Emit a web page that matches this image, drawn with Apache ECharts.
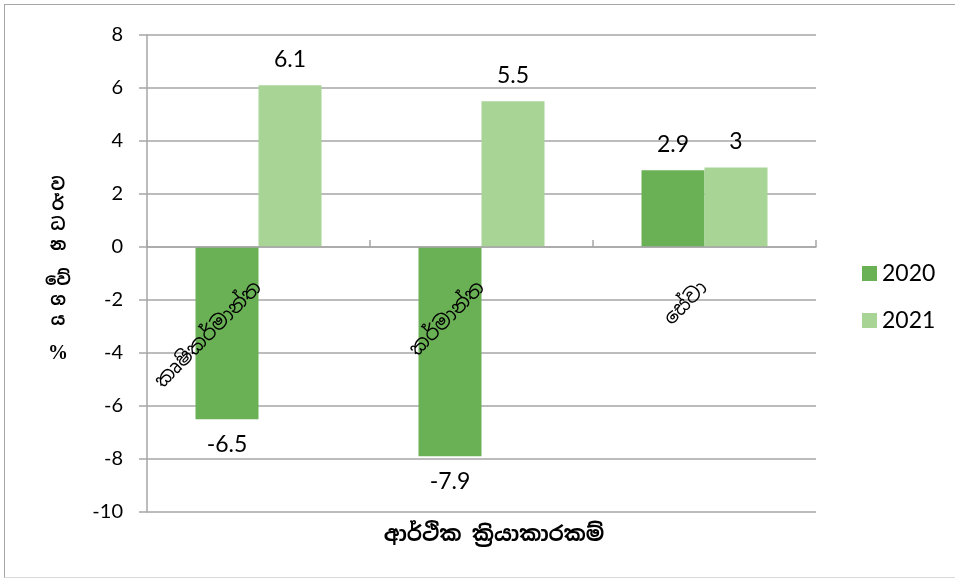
<!DOCTYPE html>
<html>
<head>
<meta charset="utf-8">
<script src="https://cdn.jsdelivr.net/npm/echarts@6/dist/echarts.min.js"></script>
<style>
  html, body { margin: 0; padding: 0; background: #fff; }
  #frame { position: absolute; left: 4px; top: 4px; width: 960px; height: 574px; border: 1.5px solid #a6a6a6; border-bottom-color: #d9d9d9; box-sizing: border-box; }
  #chart { position: absolute; left: 0; top: 0; width: 955px; height: 581px; }
</style>
</head>
<body>
<div id="frame"></div>
<div id="chart"></div>
<script>
const categories = ['කෘෂිකර්මාන්ත', 'කර්මාන්ත', 'සේවා'];
const values2020 = [-6.5, -7.9, 2.9];
const values2021 = [6.1, 5.5, 3];
const yTitleChars = ['ව', 'ර්', 'ධ', 'න', 'වේ', 'ග', 'ය', '%'];
const xTitle = 'ආර්ථික ක්‍රියාකාරකම්';
const yMin = -10;
const yMax = 8;

const font = 'Lato, "Noto Sans", sans-serif';
const sinhala = '"Noto Sans Sinhala", "Iskoola Pota", "Noto Sans", sans-serif';

const gridTop = 35;
const gridBottom = 69;
const plotHeight = 581 - gridTop - gridBottom;
// category axis sits on the zero line
const zeroOffset = -Math.round(plotHeight * (0 - yMin) / (yMax - yMin));

const toItems = (vals) => vals.map((v) => ({
  value: v,
  label: { position: v < 0 ? 'bottom' : 'top' },
}));

// stacked y title, one glyph per row, extra gap after the first word
const yTitle = yTitleChars.map((ch, i) => ({
  type: 'text',
  x: 58,
  y: 185 + i * 20 + (i >= 4 ? 15 : 0) + (i === 7 ? 14 : 0),
  style: {
    text: ch,
    fontFamily: ch === '%' ? '"Liberation Serif", serif' : sinhala,
    fontSize: ch === '%' ? 20 : 17,
    fontWeight: 'bold',
    align: 'center',
    verticalAlign: 'middle',
    fill: '#000',
  },
}));

const chart = echarts.init(document.getElementById('chart'), null, { renderer: 'canvas' });

chart.setOption({
  backgroundColor: 'transparent',
  animation: false,
  textStyle: { fontFamily: font },
  title: {
    text: xTitle,
    left: 489,
    top: 520,
    textAlign: 'center',
    textStyle: { fontFamily: sinhala, fontSize: 21, fontWeight: 'bold', color: '#000' },
  },
  graphic: yTitle,
  grid: { left: 147, right: 139, top: gridTop, bottom: gridBottom, containLabel: false, outerBoundsMode: 'none' },
  legend: {
    orient: 'vertical',
    left: 857,
    top: 257,
    itemWidth: 15,
    itemHeight: 15,
    itemGap: 24,
    icon: 'rect',
    textStyle: { fontFamily: font, fontSize: 23, color: '#000', padding: [0, 0, 0, 0] },
    data: ['2020', '2021'],
  },
  xAxis: {
    type: 'category',
    data: categories,
    position: 'bottom',
    offset: zeroOffset,
    z: 5,
    axisLine: { onZero: false, lineStyle: { color: '#a6a6a6', width: 1.5 } },
    axisTick: { show: true, inside: true, length: 7, lineStyle: { color: '#a6a6a6', width: 1.5 } },
    axisLabel: {
      rotate: 45,
      margin: 38,
      interval: 0,
      color: '#000',
      fontFamily: sinhala,
      fontSize: 20,
    },
    splitLine: { show: false },
  },
  yAxis: {
    type: 'value',
    min: yMin,
    max: yMax,
    interval: 2,
    axisLine: { show: true, lineStyle: { color: '#a6a6a6', width: 1.5 } },
    axisTick: { show: true, length: 8, lineStyle: { color: '#a6a6a6', width: 1.5 } },
    axisLabel: { color: '#000', fontSize: 20, margin: 24, fontFamily: font },
    splitLine: { lineStyle: { color: '#a6a6a6', width: 1.5 } },
  },
  series: [
    {
      name: '2020',
      type: 'bar',
      data: toItems(values2020),
      barWidth: 63,
      barGap: '0%',
      itemStyle: { color: '#6ab155' },
      label: { show: true, distance: 14, color: '#000', fontSize: 23, fontFamily: font },
    },
    {
      name: '2021',
      type: 'bar',
      data: toItems(values2021),
      barWidth: 63,
      barGap: '0%',
      itemStyle: { color: '#a8d596' },
      label: { show: true, distance: 14, color: '#000', fontSize: 23, fontFamily: font },
    },
  ],
});
</script>
</body>
</html>
